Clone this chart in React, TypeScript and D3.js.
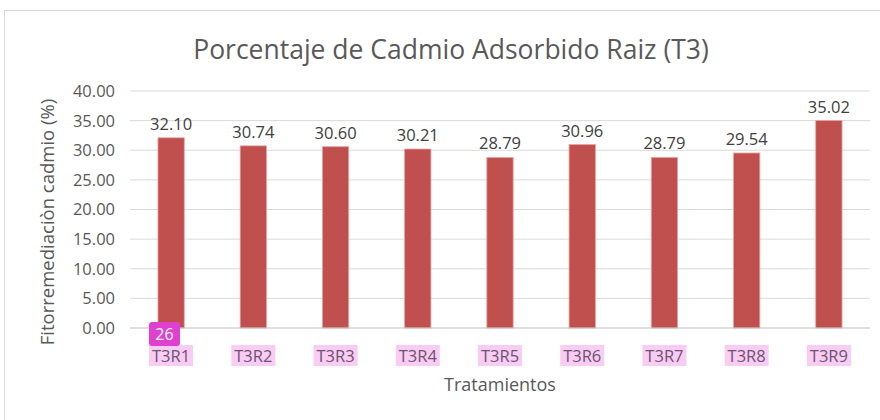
import React from 'react';
import * as d3 from 'd3';

// treatments and % cadmium uptake in root (T3)
const categories = ['T3R1', 'T3R2', 'T3R3', 'T3R4', 'T3R5', 'T3R6', 'T3R7', 'T3R8', 'T3R9'];
const values = [32.10, 30.74, 30.60, 30.21, 28.79, 30.96, 28.79, 29.54, 35.02];
const yTicks = [0, 5, 10, 15, 20, 25, 30, 35, 40];

const W = 880;
const H = 420;
const margin = { left: 130, right: 10, top: 91, bottom: 92 };
const font = '"Open Sans", "Noto Sans", sans-serif';
const textColor = '#595959';

export default function App() {
  const x = d3.scaleBand<string>()
    .domain(categories)
    .range([margin.left, W - margin.right])
    .paddingInner(0.68)
    .paddingOuter(0.34);
  const y = d3.scaleLinear().domain([0, 40]).range([H - margin.bottom, margin.top]);
  const fmt = d3.format('.2f');

  return (
    <svg width={W} height={H} style={{ position: 'absolute', left: 0, top: 0, fontFamily: font }}>
      <rect x={0} y={0} width={W} height={H} fill='#fff' />
      <rect x={4.5} y={10.5} width={W} height={H - 6} fill='#fff' stroke='#D9D9D9' />
      <text x={451} y={59} textAnchor='middle' fontSize={26.5} fill={textColor}>
        Porcentaje de Cadmio Adsorbido Raiz (T3)
      </text>

      {/* grid + y ticks */}
      {yTicks.map((t) => (
        <g key={t}>
          {t > 0 && (
            <line x1={margin.left} x2={W - margin.right} y1={y(t)} y2={y(t)} stroke='#D9D9D9' strokeWidth={1} />
          )}
          <text x={115} y={y(t)} dy='0.36em' textAnchor='end' fontSize={16.5} fill={textColor}>
            {fmt(t)}
          </text>
        </g>
      ))}

      {/* bars */}
      {values.map((v, i) => (
        <g key={categories[i]}>
          <rect
            x={x(categories[i])}
            y={y(v)}
            width={x.bandwidth()}
            height={y(0) - y(v)}
            fill='#C0504D'
            stroke='#E8A3A1'
            strokeWidth={0.8}
          />
          <text
            x={(x(categories[i]) as number) + x.bandwidth() / 2}
            y={y(v) - 8}
            textAnchor='middle'
            fontSize={16.5}
            fill='#404040'
          >
            {fmt(v)}
          </text>
        </g>
      ))}

      <line x1={margin.left} x2={W - margin.right} y1={y(0)} y2={y(0)} stroke='#BFBFBF' strokeWidth={1.2} />

      {/* x labels with highlight */}
      {categories.map((c) => {
        const cx = (x(c) as number) + x.bandwidth() / 2;
        return (
          <g key={c}>
            <rect x={cx - 22} y={345} width={44} height={21} fill='#F9CCF3' />
            <text x={cx} y={362} textAnchor='middle' fontSize={16.5} fill='#6B5570'>
              {c}
            </text>
          </g>
        );
      })}

      {/* badge */}
      <rect x={149} y={322} width={31} height={24} rx={3} fill='#E040D0' />
      <text x={164.5} y={340} textAnchor='middle' fontSize={16} fill='#fff'>26</text>

      <text x={500} y={391} textAnchor='middle' fontSize={18} fill={textColor}>Tratamientos</text>
      <text
        transform={`translate(54, ${222}) rotate(-90)`}
        textAnchor='middle'
        fontSize={18.5}
        fill={textColor}
      >
        Fitorremediaciòn cadmio (%)
      </text>
    </svg>
  );
}
